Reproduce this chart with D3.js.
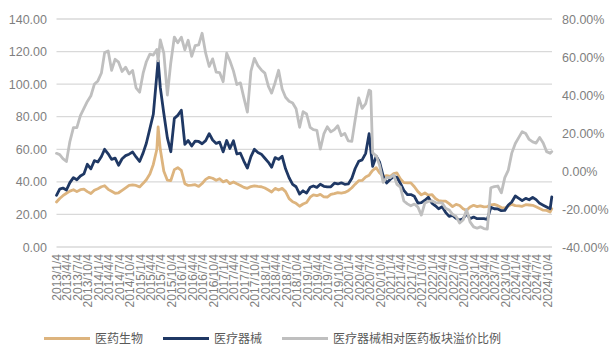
<!DOCTYPE html>
<html>
<head>
<meta charset="utf-8">
<script src="https://cdn.jsdelivr.net/npm/d3@7"></script>
<style>
  body { margin: 0; background: #ffffff; }
  svg { display: block; }
</style>
</head>
<body>
<svg id="chart" width="609" height="352"></svg>
<script>
// Month-end style samples; a few extra dates mark the sharp turns.
const dates = [
  "2013-01-04","2013-02-01","2013-03-01","2013-04-01","2013-05-01","2013-06-01","2013-07-01","2013-08-01","2013-09-01","2013-10-01","2013-11-01","2013-12-01",
  "2014-01-01","2014-02-01","2014-03-01","2014-04-01","2014-05-01","2014-06-01","2014-07-01","2014-08-01","2014-09-01","2014-10-01","2014-11-01","2014-12-01",
  "2015-01-01","2015-02-01","2015-03-01","2015-04-01","2015-05-01","2015-06-01","2015-06-12","2015-07-01","2015-08-01","2015-09-01","2015-10-01","2015-11-01","2015-12-01",
  "2016-01-01","2016-02-01","2016-03-01","2016-04-01","2016-05-01","2016-06-01","2016-07-01","2016-08-01","2016-09-01","2016-10-01","2016-11-01","2016-12-01",
  "2017-01-01","2017-02-01","2017-03-01","2017-04-01","2017-05-01","2017-06-01","2017-07-01","2017-08-01","2017-09-01","2017-10-01","2017-11-01","2017-12-01",
  "2018-01-01","2018-02-01","2018-03-01","2018-04-01","2018-05-01","2018-06-01","2018-07-01","2018-08-01","2018-09-01","2018-10-01","2018-11-01","2018-12-01",
  "2019-01-01","2019-02-01","2019-03-01","2019-04-01","2019-05-01","2019-06-01","2019-07-01","2019-08-01","2019-09-01","2019-10-01","2019-11-01","2019-12-01",
  "2020-01-01","2020-02-01","2020-03-01","2020-04-01","2020-05-01","2020-06-01","2020-07-01","2020-07-15","2020-08-01","2020-09-01","2020-10-01","2020-11-01","2020-12-01",
  "2021-01-01","2021-02-01","2021-03-01","2021-04-01","2021-05-01","2021-06-01","2021-07-01","2021-08-01","2021-09-01","2021-10-01","2021-11-01","2021-12-01",
  "2022-01-01","2022-02-01","2022-03-01","2022-04-01","2022-05-01","2022-06-01","2022-07-01","2022-08-01","2022-09-01","2022-10-01","2022-11-01","2022-12-01",
  "2023-01-01","2023-02-01","2023-03-01","2023-04-01","2023-05-01","2023-06-01","2023-07-01","2023-08-01","2023-09-01","2023-10-01","2023-11-01","2023-12-01",
  "2024-01-01","2024-02-01","2024-03-01","2024-04-01","2024-05-01","2024-06-01","2024-07-01","2024-08-01","2024-09-01","2024-10-01","2024-11-01","2024-11-15"
];

// 医药生物 (left axis)
const bioPharma = [
  27.6,29.8,31.5,33.0,34.3,35.2,34.0,35.2,35.5,34.0,32.8,34.8,
  35.8,37.0,37.6,35.4,34.2,33.0,33.3,34.8,36.3,37.8,38.1,37.8,
  36.9,39.1,41.3,44.8,50.7,60.0,73.7,60.0,46.5,41.0,40.8,47.5,48.7,
  47.0,38.9,37.8,38.0,38.3,37.2,39.0,41.5,42.8,42.2,41.0,41.9,
  40.0,40.9,38.9,39.9,38.8,37.8,36.6,36.0,37.1,37.5,37.2,37.0,
  36.2,35.0,33.8,36.0,35.0,36.0,34.0,29.7,27.8,26.8,25.0,26.4,
  27.3,30.6,32.0,31.5,32.3,30.8,30.7,32.3,32.8,33.4,33.1,33.5,
  34.6,36.4,38.6,40.7,40.9,43.0,44.1,45.5,47.1,48.7,45.5,43.2,43.8,
  43.3,45.0,45.5,41.8,39.5,39.4,39.4,37.0,34.0,32.0,33.2,31.8,
  32.2,29.8,28.5,28.2,28.2,26.6,24.8,26.2,25.5,23.5,22.5,24.6,
  25.6,24.8,25.3,24.6,24.8,25.9,26.2,25.4,24.2,24.0,25.1,26.2,
  25.4,25.3,25.0,26.0,25.8,25.6,24.7,23.6,22.6,22.5,21.5,23.5
];

// 医疗器械 (left axis)
const medDevice = [
  31.7,35.5,36.2,35.0,39.5,42.6,41.3,43.6,44.9,50.8,48.0,53.0,
  52.2,55.6,60.0,57.2,53.8,54.6,50.2,54.2,56.1,57.0,58.3,55.3,
  52.5,57.8,63.7,72.7,81.5,106.0,114.6,98.0,82.0,67.0,58.5,79.0,80.8,
  84.0,63.0,65.4,62.0,65.0,64.8,63.4,65.3,69.6,65.7,63.6,64.4,
  58.4,65.4,60.5,65.2,57.1,57.6,52.8,48.5,55.5,60.0,58.0,57.0,
  54.5,52.0,49.0,54.9,53.8,55.7,48.0,42.5,38.5,37.0,32.5,34.5,
  33.1,36.7,37.5,36.6,38.5,37.3,36.9,37.0,39.2,38.7,39.4,38.5,
  38.7,42.2,48.2,52.6,53.5,57.5,69.6,60.0,49.5,55.7,52.0,43.5,39.3,
  41.5,43.3,42.8,39.0,34.8,32.2,32.2,31.1,27.0,27.2,28.7,30.6,
  27.0,25.3,23.5,24.7,21.3,18.8,19.4,17.6,16.5,17.4,20.4,17.4,
  18.4,17.4,17.4,17.4,17.0,24.3,23.5,23.4,22.3,22.5,25.8,27.6,
  31.3,29.9,28.5,29.9,29.0,30.5,29.1,26.8,25.7,24.6,23.5,30.7
];

// 医疗器械相对医药板块溢价比例, in percent (right axis)
const premium = [
  9.3,8.6,6.5,5.0,15.5,22.8,22.8,29.1,33.0,36.6,39.6,45.6,
  47.4,51.6,62.3,63.2,53.0,58.8,57.3,52.4,54.6,51.1,52.9,43.8,
  41.5,51.5,57.5,61.5,61.0,64.0,58.0,69.0,62.0,40.0,57.0,70.5,67.5,
  70.4,63.8,68.8,60.3,66.0,66.4,72.5,62.0,55.0,59.0,52.0,51.8,
  47.0,62.0,58.0,52.7,45.5,46.4,38.6,31.0,52.5,59.3,55.5,53.2,
  51.5,44.5,41.0,46.6,53.0,43.2,38.8,36.7,35.8,32.8,23.0,31.2,
  30.0,23.0,21.8,21.4,11.5,19.5,23.3,20.6,21.8,23.8,18.6,19.8,
  15.8,15.6,27.0,38.5,33.0,35.5,42.6,42.0,9.5,8.0,3.0,-6.0,-3.5,
  -3.5,-2.0,-7.0,-8.5,-15.8,-17.3,-18.3,-17.4,-19.0,-23.2,-16.8,-16.0,
  -15.7,-16.6,-16.8,-16.8,-19.6,-20.5,-22.8,-23.9,-27.4,-25.8,-20.4,-26.8,
  -29.4,-30.1,-29.4,-30.3,-30.6,-8.8,-8.2,-7.9,-11.5,-3.5,0.5,9.4,
  14.5,17.7,20.7,19.7,16.6,15.3,14.7,17.7,14.7,10.2,9.3,10.2
];

const leftTicks = [0, 20, 40, 60, 80, 100, 120, 140];
const rightTicks = [-40, -20, 0, 20, 40, 60, 80];
const tickYears = [2013,2014,2015,2016,2017,2018,2019,2020,2021,2022,2023,2024];
const tickMonths = [1, 4, 7, 10];
const seriesNames = ["医药生物", "医疗器械", "医疗器械相对医药板块溢价比例"];
const seriesColors = ["#DDB47E", "#1F3864", "#BFBFBF"];

const svg = d3.select("#chart");
const plot = { left: 56.5, right: 552, top: 19, bottom: 247 };
const parse = d3.timeParse("%Y-%m-%d");
const dateObjs = dates.map(parse);

const x = d3.scaleTime()
  .domain([parse("2013-01-04"), parse("2024-11-17")])
  .range([plot.left, plot.right]);
const yL = d3.scaleLinear().domain([0, 140]).range([plot.bottom, plot.top]);
const yR = d3.scaleLinear().domain([-40, 80]).range([plot.bottom, plot.top]);

const numFont = "'Liberation Sans', Arial, sans-serif";
const cjkFont = "'Noto Sans CJK SC', 'Noto Sans', sans-serif";
const textColor = "#7F7F7F";

// horizontal gridlines from the left axis
svg.append("g")
  .selectAll("line")
  .data(leftTicks)
  .join("line")
  .attr("x1", plot.left)
  .attr("x2", plot.right)
  .attr("y1", d => yL(d))
  .attr("y2", d => yL(d))
  .attr("stroke", "#D9D9D9")
  .attr("stroke-width", 1.3);

// left axis
const gL = svg.append("g")
  .attr("transform", `translate(${plot.left},0)`)
  .call(d3.axisLeft(yL).tickValues(leftTicks).tickFormat(d3.format(".2f")).tickSize(0).tickPadding(9.5));
gL.select(".domain").remove();
gL.selectAll("text").attr("font-family", numFont).attr("font-size", 12.5).attr("fill", textColor);

// right axis
const fmtPct = d => (d < 0 ? "-" : "") + Math.abs(d).toFixed(2) + "%";
const gR = svg.append("g")
  .attr("transform", `translate(${plot.right},0)`)
  .call(d3.axisRight(yR).tickValues(rightTicks).tickFormat(fmtPct).tickSize(0).tickPadding(10));
gR.select(".domain").remove();
gR.selectAll("text").attr("font-family", numFont).attr("font-size", 12.5).attr("fill", textColor);

// quarterly date axis with vertical labels
const tickDates = tickYears.flatMap(yr => tickMonths.map(m => new Date(yr, m - 1, 4)));
const fmtDate = d3.timeFormat("%Y/%-m/%-d");
const gX = svg.append("g")
  .attr("transform", `translate(0,${plot.bottom})`)
  .call(d3.axisBottom(x).tickValues(tickDates).tickFormat(fmtDate).tickSize(0));
gX.select(".domain").remove();
gX.selectAll("text")
  .attr("font-family", numFont)
  .attr("font-size", 12)
  .attr("fill", textColor)
  .attr("transform", "rotate(-90)")
  .attr("text-anchor", "end")
  .attr("x", -7)
  .attr("y", 0)
  .attr("dy", "0.35em");

// series
const rows = dateObjs.map((d, i) => ({ date: d, bio: bioPharma[i], dev: medDevice[i], prem: premium[i] }));
const lineL = key => d3.line().x(d => x(d.date)).y(d => yL(d[key]));
const lineR = d3.line().x(d => x(d.date)).y(d => yR(d.prem));

const gLines = svg.append("g").attr("fill", "none").attr("stroke-width", 2.8)
  .attr("stroke-linejoin", "round").attr("stroke-linecap", "round");
gLines.append("path").datum(rows).attr("d", lineL("bio")).attr("stroke", seriesColors[0]);
gLines.append("path").datum(rows).attr("d", lineL("dev")).attr("stroke", seriesColors[1]);
gLines.append("path").datum(rows).attr("d", lineR).attr("stroke", seriesColors[2]);

// legend
const legendItems = [
  { x: 44, name: seriesNames[0], color: seriesColors[0] },
  { x: 163, name: seriesNames[1], color: seriesColors[1] },
  { x: 282, name: seriesNames[2], color: seriesColors[2] }
];
const gLeg = svg.append("g").attr("transform", "translate(0,338.5)");
const item = gLeg.selectAll("g").data(legendItems).join("g")
  .attr("transform", d => `translate(${d.x},0)`);
item.append("line").attr("x1", 0).attr("x2", 46).attr("y1", 0).attr("y2", 0)
  .attr("stroke", d => d.color).attr("stroke-width", 3);
item.append("text").attr("x", 51).attr("y", 0).attr("dy", "0.35em")
  .attr("font-family", cjkFont).attr("font-size", 12).attr("fill", "#595959")
  .text(d => d.name);
</script>
</body>
</html>
